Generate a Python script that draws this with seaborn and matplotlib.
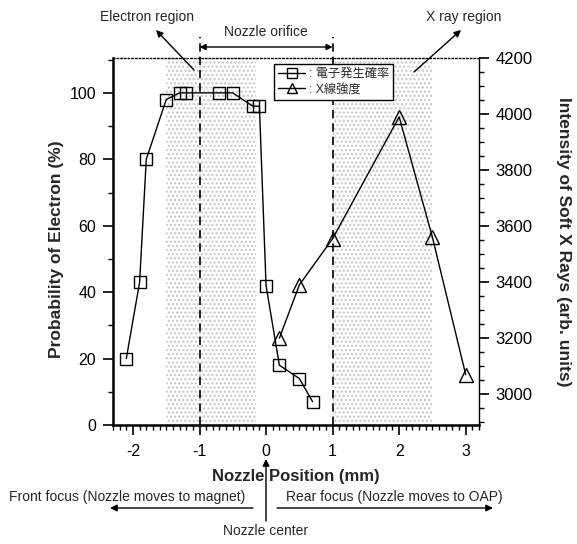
import matplotlib
matplotlib.use("Agg")
import matplotlib.pyplot as plt
import seaborn as sns
import pandas as pd
from matplotlib.ticker import MultipleLocator

# ---------------- data ----------------
elec_x = [-2.1, -1.9, -1.8, -1.5, -1.3, -1.2, -0.7, -0.5, -0.2, -0.1, 0.0, 0.2, 0.5, 0.7]
elec_prob = [20, 43, 80, 98, 100, 100, 100, 100, 96, 96, 42, 18, 14, 7]
xray_x = [0.2, 0.5, 1.0, 2.0, 2.5, 3.0]
xray_int = [3200, 3390, 3555, 3990, 3560, 3070]
label_elec = ": 電子発生確率"
label_xray = ": X線強度"
x_ticks = [-2, -1, 0, 1, 2, 3]
left_ticks = [0, 20, 40, 60, 80, 100]
right_ticks = [3000, 3200, 3400, 3600, 3800, 4000, 4200]

# ---------------- style ----------------
sns.set_style("ticks")
plt.rcParams["font.family"] = ["Liberation Sans", "Noto Sans CJK JP", "DejaVu Sans"]
plt.rcParams["axes.unicode_minus"] = False
plt.rcParams["hatch.linewidth"] = 1.0

W, H = 577, 544
fig = plt.figure(figsize=(W / 100, H / 100), dpi=100)
L, R, T, B = 113, 479, 58, 425
ax = fig.add_axes([L / W, 1 - B / H, (R - L) / W, (B - T) / H])
ax2 = ax.twinx()

def fx(px):
    return px / W

def fy(py):
    return 1 - py / H

# shaded regions
for a, b in [(-1.5, -0.15), (1.0, 2.5)]:
    ax.axvspan(a, b, facecolor="white", edgecolor="#c4c4c4", hatch="....", lw=0, zorder=0)

# dashed orifice lines
ytop = (B - 37) / (B - T)
for xv in [-1, 1]:
    ax.axvline(xv, ymin=0, ymax=ytop, clip_on=False, color="black", lw=1.2,
               ls=(0, (5, 3)), zorder=1)

df_e = pd.DataFrame({"x": elec_x, "y": elec_prob})
df_x = pd.DataFrame({"x": xray_x, "y": xray_int})

sns.lineplot(data=df_e, x="x", y="y", ax=ax, color="black", lw=1.0, marker="s",
             markersize=8.5, markerfacecolor="none", markeredgecolor="black",
             markeredgewidth=1.0, errorbar=None, label=label_elec, legend=False, zorder=3)
sns.lineplot(data=df_x, x="x", y="y", ax=ax2, color="black", lw=1.0, marker="^",
             markersize=9.5, markerfacecolor="none", markeredgecolor="black",
             markeredgewidth=1.0, errorbar=None, label=label_xray, legend=False, zorder=3)

ax.set_xlim(-2.3, 3.2)
ax.set_ylim(0, 110.5)
ax2.set_ylim(2890, 4200)

ax.set_xticks(x_ticks)
ax.set_xticklabels([str(v) for v in x_ticks])
ax.xaxis.set_minor_locator(MultipleLocator(0.1))
ax.set_yticks(left_ticks)
ax.set_yticklabels([str(v) for v in left_ticks])
ax.yaxis.set_minor_locator(MultipleLocator(10))
ax2.set_yticks(right_ticks)
ax2.set_yticklabels([str(v) for v in right_ticks])
ax2.yaxis.set_minor_locator(MultipleLocator(50))

for a_ in (ax, ax2):
    a_.tick_params(which="major", direction="out", length=7, width=1.2, labelsize=11.5,
                   pad=5, color="black", labelcolor="black")
    a_.tick_params(which="minor", direction="out", length=3.5, width=1.0, color="black")
ax.tick_params(axis="x", which="major", pad=7)
ax2.tick_params(axis="y", which="major", labelsize=12)

ax.spines["left"].set_linewidth(1.8)
ax.spines["bottom"].set_linewidth(1.8)
ax.spines["top"].set_visible(True)
ax.spines["top"].set_linestyle(":")
ax.spines["top"].set_linewidth(1.0)
ax.spines["right"].set_visible(False)
for s in ["left", "top", "bottom"]:
    ax2.spines[s].set_visible(False)
ax2.spines["right"].set_visible(True)
ax2.spines["right"].set_linewidth(1.0)
for s in ax.spines.values():
    s.set_color("black")
ax2.spines["right"].set_color("black")

ax.set_xlabel("Nozzle Position (mm)", fontsize=12, fontweight="bold")
ax.xaxis.set_label_coords(0.5, (B - 476) / (B - T))
ax.xaxis.label.set_verticalalignment("center")
ax.set_ylabel("Probability of Electron (%)", fontsize=12.5, fontweight="bold")
ax.yaxis.set_label_coords((57 - L) / (R - L), 0.48)
ax.yaxis.label.set_verticalalignment("center")
ax2.set_ylabel("Intensity of Soft X Rays (arb. units)", fontsize=12.5, fontweight="bold",
               rotation=270)
ax2.yaxis.set_label_coords((563 - L) / (R - L), 0.5)
ax2.yaxis.label.set_verticalalignment("center")

# legend
h1, l1 = ax.get_legend_handles_labels()
h2, l2 = ax2.get_legend_handles_labels()
leg = ax2.legend(h1 + h2, l1 + l2, loc="upper left",
                 bbox_to_anchor=((274 - L) / (R - L), (B - 64) / (B - T)),
                 borderaxespad=0, fancybox=False, framealpha=1, edgecolor="black",
                 fontsize=8.8, handlelength=2.2, handletextpad=0.3, borderpad=0.35,
                 labelspacing=0.25, markerscale=0.8)
leg.get_frame().set_linewidth(1.0)

# annotations
FS = 10
arrow_kw = dict(arrowstyle="-|>", color="black", lw=1.0, mutation_scale=10,
                shrinkA=0, shrinkB=0)
fig.text(fx(147), fy(17), "Electron region", ha="center", va="center", fontsize=FS)
ax.annotate("", xy=(fx(156), fy(30)), xytext=(fx(194), fy(70)),
            xycoords="figure fraction", textcoords="figure fraction",
            arrowprops=arrow_kw, annotation_clip=False)
fig.text(fx(464), fy(17), "X ray region", ha="center", va="center", fontsize=FS)
ax.annotate("", xy=(fx(461), fy(30)), xytext=(fx(414), fy(72)),
            xycoords="figure fraction", textcoords="figure fraction",
            arrowprops=arrow_kw, annotation_clip=False)

ytr = ax.get_xaxis_transform()
ya = (B - 47) / (B - T)
ax.annotate("", xy=(1, ya), xytext=(-1, ya), xycoords=ytr, textcoords=ytr,
            arrowprops=dict(arrowstyle="<|-|>", color="black", lw=1.0,
                            mutation_scale=9, shrinkA=0, shrinkB=0),
            annotation_clip=False)
ax.text(0, (B - 39) / (B - T), "Nozzle orifice", transform=ytr, ha="center",
        va="bottom", fontsize=FS)

fig.text(fx(127), fy(497), "Front focus (Nozzle moves to magnet)", ha="center",
         va="center", fontsize=FS)
fig.text(fx(394), fy(497), "Rear focus (Nozzle moves to OAP)", ha="center",
         va="center", fontsize=FS)
ax.annotate("", xy=(fx(110), fy(508)), xytext=(fx(253), fy(508)),
            xycoords="figure fraction", textcoords="figure fraction",
            arrowprops=arrow_kw, annotation_clip=False)
ax.annotate("", xy=(fx(493), fy(508)), xytext=(fx(277), fy(508)),
            xycoords="figure fraction", textcoords="figure fraction",
            arrowprops=arrow_kw, annotation_clip=False)
ax.annotate("", xy=(fx(266), fy(459)), xytext=(fx(266), fy(521)),
            xycoords="figure fraction", textcoords="figure fraction",
            arrowprops=arrow_kw, annotation_clip=False)
fig.text(fx(266), fy(531), "Nozzle center", ha="center", va="center", fontsize=FS)

fig.savefig("out.png", dpi=100)
